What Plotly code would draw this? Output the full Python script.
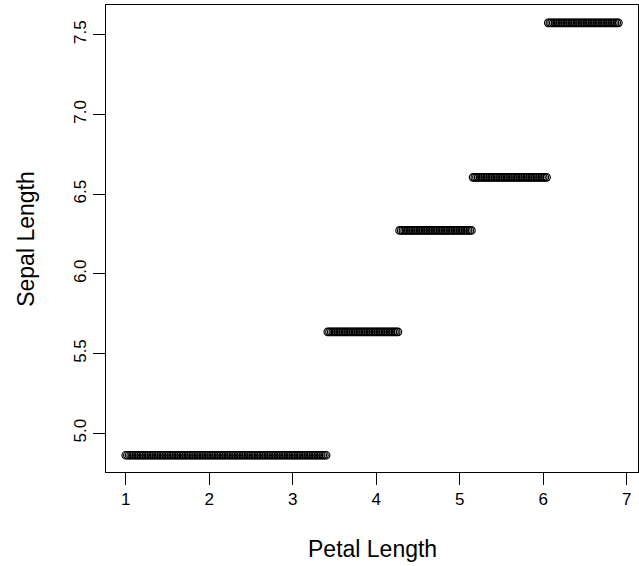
import numpy as np
import plotly.graph_objects as go

# Regression-tree style step prediction: Sepal Length vs Petal Length
petal_start = 1.0
petal_end = 6.9
petal_step = 0.02
split_points = [3.42, 4.27, 5.16, 6.06]
leaf_values = [4.862, 5.636, 6.272, 6.605, 7.574]

x_ticks = [1, 2, 3, 4, 5, 6, 7]
y_ticks = [5.0, 5.5, 6.0, 6.5, 7.0, 7.5]
y_tick_text = ["5.0", "5.5", "6.0", "6.5", "7.0", "7.5"]

petal = np.arange(petal_start, petal_end + 1e-9, petal_step)
sepal = np.array(leaf_values)[np.searchsorted(split_points, petal)]

fig = go.Figure()
fig.add_trace(go.Scatter(
    x=petal, y=sepal, mode="markers",
    marker=dict(symbol="circle-open", size=7.5, color="black",
                line=dict(width=1.2, color="black")),
    showlegend=False, hoverinfo="skip",
))

font_family = "Liberation Sans, Arial, sans-serif"
fig.update_layout(
    width=639, height=566,
    margin=dict(l=106, r=1, t=5, b=94),
    paper_bgcolor="white", plot_bgcolor="white",
    font=dict(family=font_family, color="black"),
    xaxis=dict(range=[0.764, 7.135], tickvals=x_ticks, ticks="outside",
               ticklen=12, tickwidth=1, tickcolor="black",
               showline=True, mirror=True, linecolor="black", linewidth=1,
               showgrid=False, zeroline=False,
               tickfont=dict(size=17, family=font_family)),
    yaxis=dict(range=[4.757, 7.686], tickvals=y_ticks, ticktext=y_tick_text,
               ticks="outside", ticklen=12, tickwidth=1, tickcolor="black",
               tickangle=-90,
               showline=True, mirror=True, linecolor="black", linewidth=1,
               showgrid=False, zeroline=False,
               tickfont=dict(size=17, family=font_family)),
    annotations=[
        dict(text="Petal Length", xref="paper", yref="paper", x=0.5,
             y=(472 - 549) / 466.6, xanchor="center", yanchor="middle",
             showarrow=False, font=dict(size=23, family=font_family)),
        dict(text="Sepal Length", xref="paper", yref="paper",
             x=(25.3 - 106) / 532, y=0.5, xanchor="center", yanchor="middle",
             textangle=-90, showarrow=False,
             font=dict(size=23, family=font_family)),
    ],
)

fig.write_html("out.html", config={"displayModeBar": False},
               post_script="document.body.style.margin='0';document.body.style.overflow='hidden';")
